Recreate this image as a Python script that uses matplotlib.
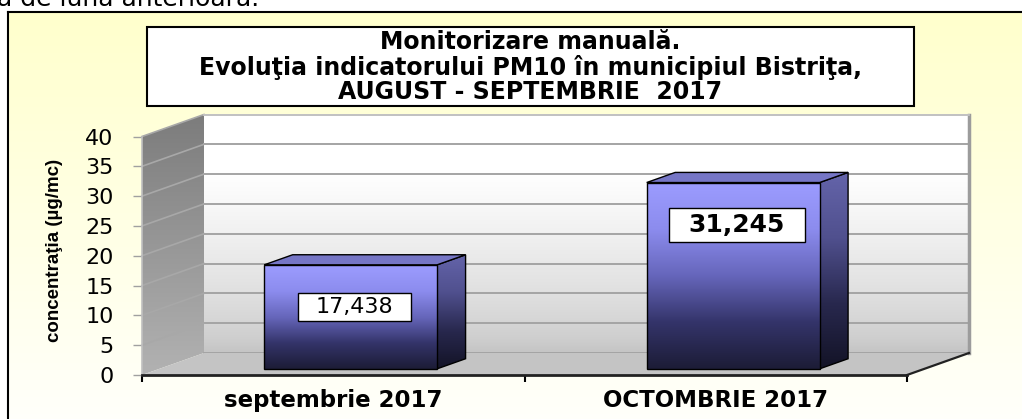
import numpy as np
import matplotlib.pyplot as plt
from matplotlib.patches import Polygon, Rectangle
from matplotlib.colors import LinearSegmentedColormap
from matplotlib.path import Path

categories = ["septembrie 2017", "OCTOMBRIE 2017"]
values = [17.438, 31.245]
value_labels = ["17,438", "31,245"]
yticks = [0, 5, 10, 15, 20, 25, 30, 35, 40]
title_lines = [
    "Monitorizare manuală.",
    "Evoluţia indicatorului PM10 în municipiul Bistriţa,",
    "AUGUST - SEPTEMBRIE  2017",
]
ylabel = "concentraţia (µg/mc)"
above_text = "a de luna anterioară."

# label styles
label_sizes = [16, 18]
label_weights = ["normal", "bold"]

W, H = 1022, 419
fig = plt.figure(figsize=(W / 100, H / 100), dpi=100)

# background layer (pixel-like layout coords)
bg = fig.add_axes([0, 0, 1, 1], frameon=False)
bg.set_axis_off()
nb = 120
edges = np.linspace(12, H + 2, nb + 1)
for k in range(nb):
    tt = k / (nb - 1)
    bg.add_patch(Rectangle((8, edges[k]), W + 60, edges[k + 1] - edges[k] + 0.6,
                           fc=(1, 1, 0.80 + 0.18 * tt), ec="none", lw=0,
                           antialiased=False, zorder=0))
bg.plot([8, 8], [H + 20, 12], color="black", lw=1.5, zorder=1, solid_capstyle="projecting")
bg.plot([8, W + 40], [12, 12], color="black", lw=1.5, zorder=1, solid_capstyle="projecting")
bg.add_patch(Rectangle((147, 27), 767, 79, fc="white", ec="black", lw=1.5, zorder=2))
bg.text(530.5, 67, "\n".join(title_lines), ha="center", va="center",
        fontsize=17, fontweight="bold", linespacing=1.02, zorder=3)
bg.text(-3, 6, above_text, fontsize=18, ha="left", va="baseline")
bg.set_xlim(0, W)
bg.set_ylim(H, 0)

# main axes = front plane of the 3D box
ax = fig.add_axes([142 / W, 44 / H, 765 / W, 238.5 / H])
ax.set_xlim(-0.5, 1.5)
ax.set_ylim(0, 40)
ax.patch.set_visible(False)
for name, s in ax.spines.items():
    s.set_visible(name == "bottom")
ax.spines["bottom"].set_color("#222222")
ax.spines["bottom"].set_linewidth(2)
ax.spines["bottom"].set_zorder(4)

# depth offset in pixels converted to data units
DX, DY = 62.0, 22.0
dxd = DX / (ax.bbox.width / 2.0)
dyd = DY / (ax.bbox.height / 40.0)


def P(x, y, d):
    return (x + d * dxd, y + d * dyd)


def grad_fill(verts, cmap, z):
    poly = Polygon(verts, closed=True, fc="none", ec="none", clip_on=False, zorder=z)
    ax.add_patch(poly)
    xs = [v[0] for v in verts]
    ys = [v[1] for v in verts]
    g = np.linspace(1, 0, 256).reshape(-1, 1)
    im = ax.imshow(g, cmap=cmap, vmin=0, vmax=1, aspect="auto", zorder=z,
                   extent=(min(xs), max(xs), min(ys), max(ys)), origin="upper",
                   interpolation="bilinear")
    im.set_clip_box(fig.bbox)
    im.set_clip_path(poly)
    return poly


# back wall
wall_vals = np.linspace(0, 1, 18)
wall_gray = 0.77 + 0.23 * np.clip(wall_vals / 0.75, 0, 1) ** 0.7
wall_cmap = LinearSegmentedColormap.from_list(
    "wall", [(v, (g, g, g)) for v, g in zip(wall_vals, wall_gray)])
grad_fill([P(-0.5, 0, 1), P(1.5, 0, 1), P(1.5, 40, 1), P(-0.5, 40, 1)], wall_cmap, 1)

# left wall
side_cmap = LinearSegmentedColormap.from_list("lw", ["#b2b2b2", "#7c7c7c"])
grad_fill([P(-0.5, 0, 0), P(-0.5, 0, 1), P(-0.5, 40, 1), P(-0.5, 40, 0)], side_cmap, 1)

# gridlines
for y in yticks:
    (x0, y0), (x1, y1) = P(-0.5, y, 1), P(1.5, y, 1)
    ax.plot([x0, x1], [y0, y1], color="#a4a4a4", lw=1.4, clip_on=False, zorder=2)
    if y > 0:
        (a0, b0), (a1, b1) = P(-0.5, y, 0), P(-0.5, y, 1)
        ax.plot([a0, a1], [b0, b1], color="#a8a8a8", lw=1.2, clip_on=False, zorder=2)

# wall edges
(x0, y0), (x1, y1) = P(1.5, 0, 1), P(1.5, 40, 1)
ax.plot([x0, x1], [y0, y1], color="#9c9c9c", lw=2.5, clip_on=False, zorder=2)
(x0, y0), (x1, y1) = P(-0.5, 40, 1), P(1.5, 40, 1)
ax.plot([x0, x1], [y0, y1], color="#c8c8c8", lw=1.2, clip_on=False, zorder=2)
ax.plot([-0.5, -0.5], [0, 40], color="#c0c0c0", lw=1.2, clip_on=False, zorder=2)

# floor
floor = Polygon([P(-0.5, 0, 0), P(1.5, 0, 0), P(1.5, 0, 1), P(-0.5, 0, 1)],
                closed=True, fc="#c4c4c4", ec="none", clip_on=False, zorder=2.5)
ax.add_patch(floor)
(x0, y0), (x1, y1) = P(1.5, 0, 0), P(1.5, 0, 1)
ax.plot([x0, x1], [y0, y1], color="#222222", lw=1.6, clip_on=False, zorder=3)

# bars
front_cmap = LinearSegmentedColormap.from_list(
    "front", ["#1c1c36", "#34346a", "#6666bb", "#8c8cee", "#9c9cff"])
sidebar_cmap = LinearSegmentedColormap.from_list(
    "sideb", ["#131326", "#28284e", "#50508e", "#6464aa"])
bw = 0.452
df, db = 0.28, 0.74
for i, v in enumerate(values):
    x0, x1 = i - bw / 2, i + bw / 2
    side = [P(x1, 0, df), P(x1, 0, db), P(x1, v, db), P(x1, v, df)]
    top = [P(x0, v, df), P(x1, v, df), P(x1, v, db), P(x0, v, db)]
    front = [P(x0, 0, df), P(x1, 0, df), P(x1, v, df), P(x0, v, df)]
    grad_fill(side, sidebar_cmap, 3.2)
    ax.add_patch(Polygon(side, closed=True, fc="none", ec="black", lw=1, clip_on=False, zorder=3.3))
    ax.add_patch(Polygon(top, closed=True, fc="#7676c6", ec="black", lw=1, clip_on=False, zorder=3.3))
    grad_fill(front, front_cmap, 3.4)
    ax.add_patch(Polygon(front, closed=True, fc="none", ec="black", lw=1, clip_on=False, zorder=3.5))


def wide_box(x0, y0, width, height, mutation_size):
    px = 0.8 * mutation_size
    py = 0.2 * mutation_size
    return Path([(x0 - px, y0 - py), (x0 + width + px, y0 - py),
                 (x0 + width + px, y0 + height + py), (x0 - px, y0 + height + py),
                 (x0 - px, y0 - py)], closed=True)


for i, v in enumerate(values):
    ax.annotate(value_labels[i], xy=(i, v), xytext=(21, -36), textcoords="offset pixels",
                ha="center", va="center", fontsize=label_sizes[i], fontweight=label_weights[i],
                bbox=dict(boxstyle=wide_box, fc="white", ec="black", lw=1),
                zorder=6, annotation_clip=False)

# axes ticks
ax.set_yticks(yticks)
ax.tick_params(axis="y", direction="out", length=6.5, width=1, color="#a0a0a0",
               pad=14, labelsize=16)
ax.set_xticks([-0.5, 0.5, 1.5])
ax.set_xticklabels([])
ax.tick_params(axis="x", which="major", direction="out", length=5, width=1.5, color="black")
ax.set_xticks([0, 1], minor=True)
ax.set_xticklabels(categories, minor=True, fontweight="bold", fontsize=16.5)
ax.tick_params(axis="x", which="minor", length=0, pad=10)

ax.set_ylabel(ylabel, fontweight="bold", fontsize=13.5, family=["Liberation Sans", "DejaVu Sans"])
ax.yaxis.set_label_coords(-0.103, 0.524)

ax.set_xlim(-0.5, 1.5)
ax.set_ylim(0, 40)

fig.savefig("out.png", dpi=100)
